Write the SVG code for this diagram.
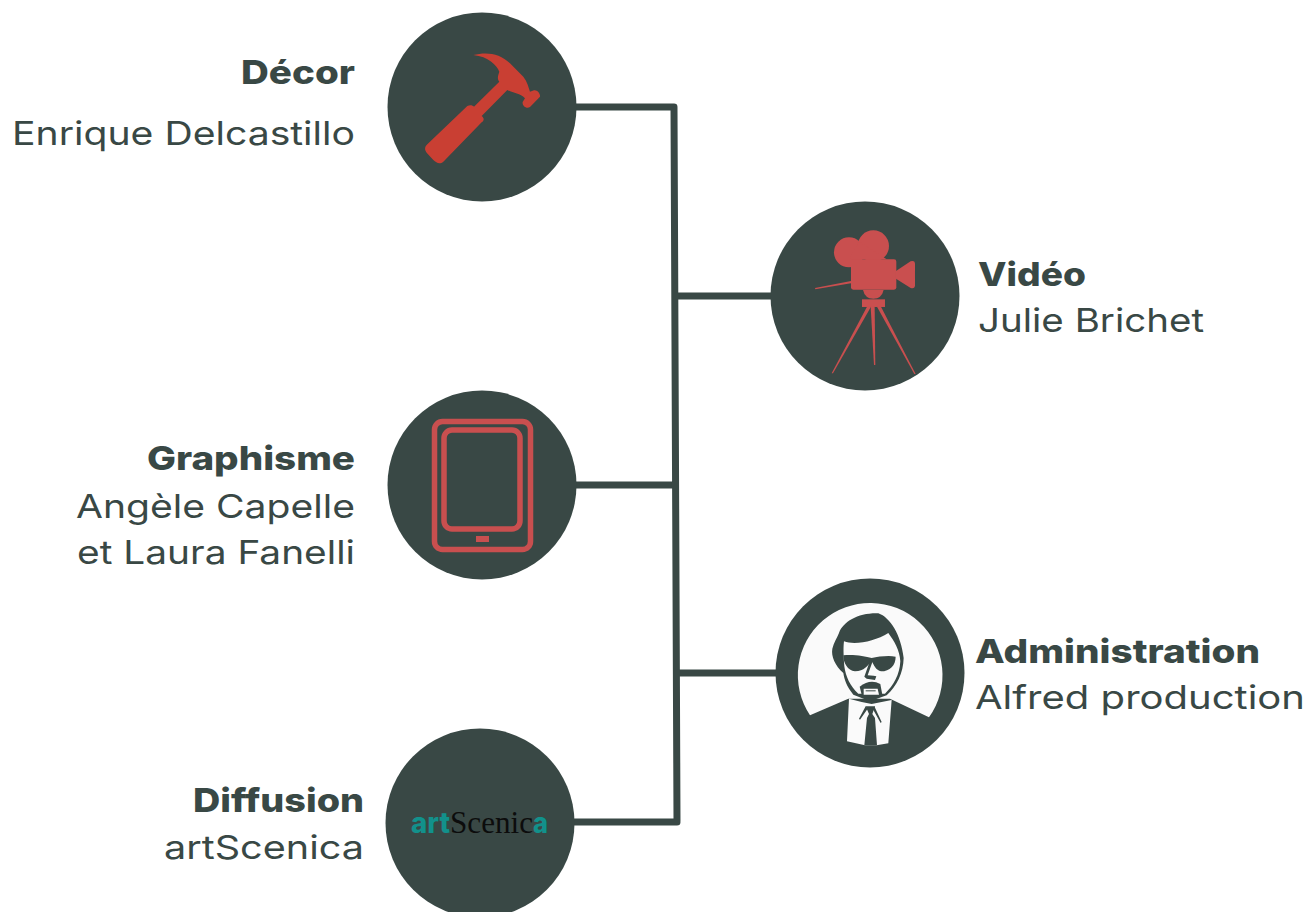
<svg xmlns="http://www.w3.org/2000/svg" width="1308" height="912" viewBox="0 0 1308 912">
<style>
.c{fill:#394845}
.t{font-family:"Inter","Liberation Sans",sans-serif;fill:#394845;font-size:33px}
.b{font-weight:800}
.e{text-anchor:end}
.l{stroke:#394845;stroke-width:7;fill:none;stroke-linecap:round}
.r{fill:#c94f4f}
.s{fill:none;stroke:#c94f4f;stroke-width:5.5}
.w{fill:#fafafa}
.d{fill:#394845}
.g{font-family:Inter,"Liberation Sans",sans-serif;font-weight:800;font-size:29px;fill:#12918b}
</style>
<rect width="1308" height="912" fill="#fff"/>
<g id="connectors">
<path class="l" d="M674 107L677 821M576 107H674M675 296H771M576 485H674M679 673H777M574 822H677"/>
</g>
<g id="decor">
<circle class="c" cx="482" cy="107" r="94.500"/>
<path transform="translate(390 10) scale(.3333)" fill="#c93f33" d="M250 135C290 125 330 130 360 160L400 200C412 215 415 230 420 245L432 241C440 238 452 250 450 260L420 291C410 298 396 288 398 276L405 265C390 250 370 250 352 240L275 318C284 325 282 332 275 337L160 455C150 463 140 460 130 450L110 428C102 418 105 410 112 403L232 288C240 284 248 286 252 290L328 215C320 205 325 195 328 185C320 165 295 140 250 135Z"/>
<text class="t b e" x="355" y="84" textLength="114" lengthAdjust="spacingAndGlyphs">Décor</text>
<text class="t e" x="355" y="145" textLength="343" lengthAdjust="spacingAndGlyphs">Enrique Delcastillo</text>
</g>
<g id="video">
<circle class="c" cx="865" cy="296" r="94.500"/>
<g transform="translate(770 200) scale(.3333)" class="r">
<circle cx="237" cy="157" r="45"/><circle cx="310" cy="138" r="47"/>
<path d="M240 170L268 125L350 178H243Z"/>
<rect x="243" y="178" width="136" height="91" rx="7"/>
<path d="M378 213L422 184Q434 180 435 190V258Q433 268 422 264L378 236Z"/>
<path d="M279 270H341Q335 296 310 296Q285 296 279 270Z"/>
<rect x="276" y="298" width="69" height="23"/>
<path d="M243 243L135 264L136 268L243 250Z"/>
<path d="M291 320H303L189 520H185Z"/>
<path d="M302 320H314L316 495H312Z"/>
<path d="M321 320H333L437 522H433Z"/>
</g>
<text class="t b" x="978" y="286" textLength="108" lengthAdjust="spacingAndGlyphs">Vidéo</text>
<text class="t" x="978" y="332" textLength="226" lengthAdjust="spacingAndGlyphs">Julie Brichet</text>
</g>
<g id="graphisme">
<circle class="c" cx="482" cy="485" r="94.500"/>
<g transform="translate(420 410)">
<rect class="s" x="14.500" y="11.500" width="96" height="128" rx="8"/>
<rect class="s" x="24" y="20" width="76" height="99" rx="8"/>
<rect class="r" x="56" y="126" width="13" height="6"/>
</g>
<text class="t b e" x="355" y="470" textLength="208" lengthAdjust="spacingAndGlyphs">Graphisme</text>
<text class="t e" x="355" y="518" textLength="279" lengthAdjust="spacingAndGlyphs">Angèle Capelle</text>
<text class="t e" x="355" y="564" textLength="278" lengthAdjust="spacingAndGlyphs">et Laura Fanelli</text>
</g>
<g id="administration">
<circle class="c" cx="870" cy="673" r="94.500"/>
<g transform="translate(775 578) scale(.3333)">
<path class="w" d="M105 412A217 217 0 1 1 462 418L345 362H220Z"/>
<path class="d" d="M205 285C180 262 168 235 172 212C176 195 186 180 192 165C205 130 250 104 310 106C345 118 378 170 386 240C385 285 365 325 335 352L285 370L235 350C215 325 208 305 205 285Z"/>
<path class="w" d="M207 190C240 202 300 190 340 165C358 190 374 215 376 250C374 290 356 322 330 347H250C225 325 212 295 208 265C205 225 205 205 207 190Z"/>
<path class="d" d="M205 232C235 228 270 235 290 240C310 236 340 232 362 236C362 262 345 280 318 280C303 278 296 260 290 250C278 262 268 280 240 280C218 278 205 255 205 232Z"/>
<path class="d" d="M285 248L268 296L275 302L300 306L304 295L296 293L278 292L293 250Z"/>
<path class="d" d="M254 326Q285 302 316 318L322 350L312 358H262Z"/>
<path class="w" d="M266 332H308L312 350H266Z"/>
<path class="d" d="M272 337H302V340H272Z"/>
<path class="w" d="M222 362L260 372L290 378L350 366L340 496L305 502L270 502L216 490Z"/>
<path class="d" d="M272 385H300L292 408L300 420L306 502H268L276 420L282 408Z"/>
<path class="d" d="M272 385L252 422L255 425L278 392ZM298 385L320 432L317 435L293 392Z"/>
</g>
<text class="t b" x="975" y="663" textLength="285" lengthAdjust="spacingAndGlyphs">Administration</text>
<text class="t" x="975" y="709" textLength="330" lengthAdjust="spacingAndGlyphs">Alfred production</text>
</g>
<g id="diffusion">
<circle class="c" cx="480" cy="823" r="94.500"/>
<text class="g" x="411" y="833" textLength="39" lengthAdjust="spacingAndGlyphs">art</text>
<text x="450" y="833" font-family="'Liberation Serif',serif" font-size="32" fill="#0c0c0c" textLength="83" lengthAdjust="spacingAndGlyphs">Scenic</text>
<text class="g" x="533" y="833" textLength="15" lengthAdjust="spacingAndGlyphs">a</text>
<text class="t b e" x="364" y="812" textLength="171" lengthAdjust="spacingAndGlyphs">Diffusion</text>
<text class="t e" x="364" y="859" textLength="200" lengthAdjust="spacingAndGlyphs">artScenica</text>
</g>
</svg>
